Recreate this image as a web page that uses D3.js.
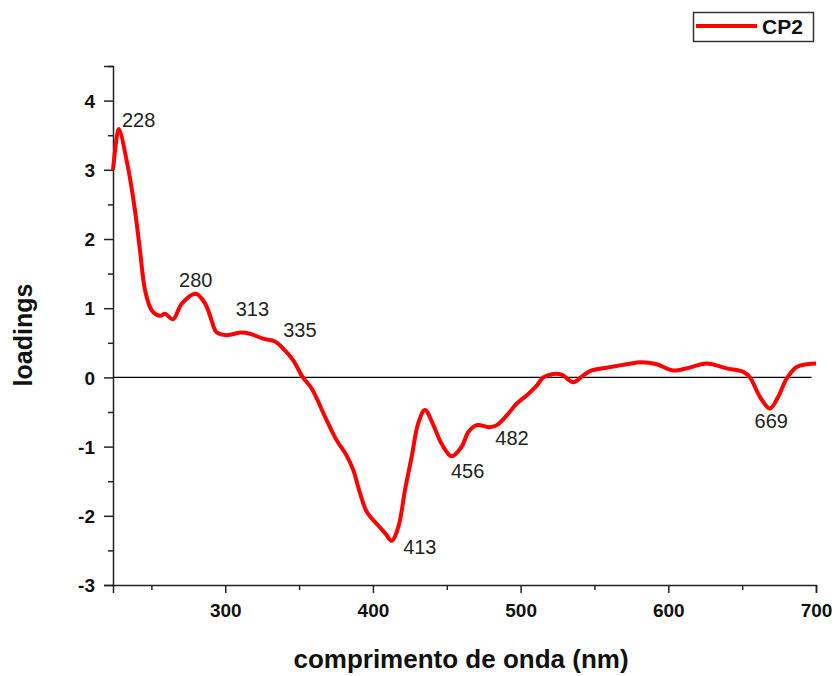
<!DOCTYPE html>
<html>
<head>
<meta charset="utf-8">
<script src="https://cdn.jsdelivr.net/npm/d3@7"></script>
<style>
  body { margin: 0; background: #fff; }
  svg { display: block; }
  .tick text { font-family: "Liberation Sans", Arial, sans-serif; font-weight: bold; font-size: 19px; fill: #111; }
  .peak { font-family: "Liberation Sans Narrow", "Liberation Sans", Arial, sans-serif; font-size: 20px; fill: #222; }
</style>
</head>
<body>
<div id="chart"></div>
<script>
// wavelength (nm) and CP2 loadings
const wavelength = [224, 227.2, 228, 234.2, 238.9, 242.3, 245.7, 250.2, 255.8, 259.2, 264.6, 270.7, 280, 286.3, 293.1, 294.2,
  301, 311.1, 316.8, 325.6, 333.7, 339.1, 345.9, 352.6, 358.5, 368.7, 375.5, 382.2, 386.7, 391.2, 395.8, 403.6, 408.2,
  412.7, 417.2, 421.7, 426.2, 430.7, 435.2, 440.9, 446.5, 453.3, 460.1, 464.6, 470.2, 479.2, 483.8, 490.6, 497.3, 505.2,
  510.9, 515.3, 522.1, 527.8, 535.6, 542.4, 548.1, 558.3, 571.8, 581.9, 592.1, 603.4, 612.4, 626, 639.5, 650.7, 655.3,
  662, 668.8, 674.4, 680.1, 686.9, 693.7, 700];
const loadings = [3.0, 3.55, 3.59, 3.03, 2.41, 1.83, 1.26, 0.97, 0.89, 0.92, 0.84, 1.07, 1.21, 1.07, 0.68, 0.65,
  0.61, 0.65, 0.63, 0.56, 0.52, 0.42, 0.25, 0.0, -0.16, -0.62, -0.91, -1.13, -1.34, -1.67, -1.94, -2.14, -2.25,
  -2.36, -2.16, -1.63, -1.15, -0.66, -0.47, -0.69, -0.96, -1.14, -1.0, -0.79, -0.69, -0.72, -0.69, -0.55, -0.38, -0.24,
  -0.12, 0.0, 0.05, 0.04, -0.07, 0.03, 0.10, 0.14, 0.19, 0.22, 0.19, 0.10, 0.13, 0.20, 0.13, 0.08, 0.0,
  -0.28, -0.45, -0.28, -0.02, 0.15, 0.19, 0.20];

const peakLabels = ["228", "280", "313", "335", "413", "456", "482", "669"];
const peakValues = [3.59, 1.21, 0.65, 0.52, -2.36, -1.14, -0.70, -0.45];

const xMajorTicks = [300, 400, 500, 600, 700];
const xMinorTicks = [250, 350, 450, 550, 650];
const yMajorTicks = [-3, -2, -1, 0, 1, 2, 3, 4];
const yMinorTicks = [-2.5, -1.5, -0.5, 0.5, 1.5, 2.5, 3.5, 4.5];

const seriesName = "CP2";
const xTitle = "comprimento de onda (nm)";
const yTitle = "loadings";

const width = 837, height = 676;
const margin = {top: 66, right: 21, bottom: 91, left: 113};

const svg = d3.select('#chart').append('svg')
  .attr('width', width).attr('height', height);

const x = d3.scaleLinear().domain([224, 700]).range([margin.left, width - margin.right]);
const y = d3.scaleLinear().domain([-3, 4.5]).range([height - margin.bottom, margin.top]);

// axes
const xAxis = svg.append('g')
  .attr('transform', `translate(0,${height - margin.bottom})`)
  .call(d3.axisBottom(x).tickValues(xMajorTicks).tickSize(8).tickPadding(7).tickFormat(d => String(d)));
svg.append('g')
  .attr('transform', `translate(0,${height - margin.bottom})`)
  .call(d3.axisBottom(x).tickValues(xMinorTicks).tickSize(5).tickFormat(''))
  .select('.domain').remove();

const yAxis = svg.append('g')
  .attr('transform', `translate(${margin.left},0)`)
  .call(d3.axisLeft(y).tickValues(yMajorTicks).tickSize(9).tickPadding(9).tickFormat(d => String(d)));
svg.append('g')
  .attr('transform', `translate(${margin.left},0)`)
  .call(d3.axisLeft(y).tickValues(yMinorTicks).tickSize(5).tickFormat(''))
  .select('.domain').remove();

svg.selectAll('.domain').attr('stroke', '#222').attr('stroke-width', 1.5);
svg.selectAll('.tick line').attr('stroke', '#222').attr('stroke-width', 1.5);
xAxis.selectAll('.tick text').attr('dy', '0.9em');
yAxis.selectAll('.tick text').attr('dy', '0.35em');

// zero line
svg.append('line')
  .attr('x1', x(224)).attr('x2', x(697))
  .attr('y1', y(0)).attr('y2', y(0))
  .attr('stroke', '#000').attr('stroke-width', 1.2);

// curve
const data = wavelength.map((w, i) => ({w: w, v: loadings[i]}));
const line = d3.line().x(d => x(d.w)).y(d => y(d.v)).curve(d3.curveCatmullRom.alpha(0.5));
svg.append('path')
  .datum(data)
  .attr('fill', 'none')
  .attr('stroke', '#ff0000')
  .attr('stroke-width', 4)
  .attr('stroke-linejoin', 'round')
  .attr('d', line);

// peak labels (offsets relative to each peak)
const labelOffsets = [[3, -2], [0, -7], [8, -16], [23, -4], [11, 13], [12, 22], [18, 19], [1, 19]];
const labelAnchors = ['start', 'middle', 'middle', 'middle', 'start', 'middle', 'middle', 'middle'];
svg.append('g').selectAll('text')
  .data(peakLabels)
  .enter()
  .append('text')
  .attr('class', 'peak')
  .attr('x', (d, i) => x(+d) + labelOffsets[i][0])
  .attr('y', (d, i) => y(peakValues[i]) + labelOffsets[i][1])
  .attr('text-anchor', (d, i) => labelAnchors[i])
  .text(d => d);

// axis titles
svg.append('text')
  .attr('x', 461).attr('y', 668)
  .attr('text-anchor', 'middle')
  .style('font-family', '"Liberation Sans", Arial, sans-serif')
  .style('font-weight', 'bold').style('font-size', '26px').attr('fill', '#111')
  .text(xTitle);
svg.append('text')
  .attr('transform', `translate(32,335) rotate(-90)`)
  .attr('text-anchor', 'middle')
  .style('font-family', '"Liberation Sans", Arial, sans-serif')
  .style('font-weight', 'bold').style('font-size', '25px').attr('fill', '#111')
  .text(yTitle);

// legend
const legend = svg.append('g');
legend.append('rect')
  .attr('x', 693.5).attr('y', 12.5).attr('width', 120).attr('height', 29)
  .attr('fill', '#fff').attr('stroke', '#333').attr('stroke-width', 1.5);
legend.append('line')
  .attr('x1', 696).attr('x2', 757).attr('y1', 26).attr('y2', 26)
  .attr('stroke', '#ff0000').attr('stroke-width', 4);
legend.append('text')
  .attr('x', 762).attr('y', 34)
  .style('font-family', '"Liberation Sans", Arial, sans-serif')
  .style('font-weight', 'bold').style('font-size', '21px').attr('fill', '#111')
  .text(seriesName);
</script>
</body>
</html>
